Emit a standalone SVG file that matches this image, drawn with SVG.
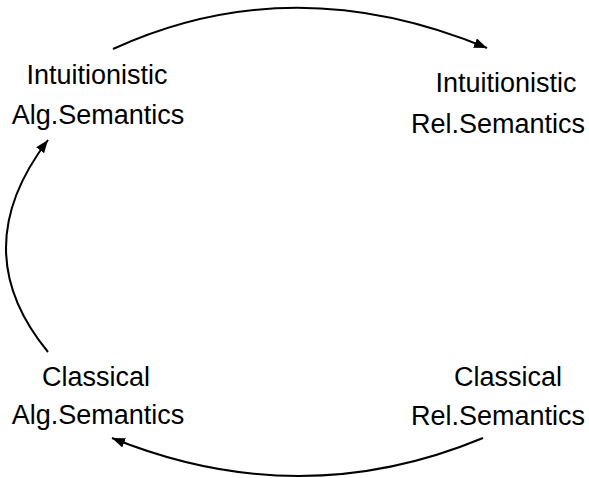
<svg xmlns="http://www.w3.org/2000/svg" width="589" height="478" viewBox="0 0 589 478">
<style>
.lbl{font-family:"Liberation Sans",Arial,sans-serif;font-size:27px;fill:#000;text-anchor:middle}
.edge{fill:none;stroke:#000;stroke-width:2}
</style>
<defs>
<marker id="ah" markerUnits="userSpaceOnUse" markerWidth="14" markerHeight="11" refX="13" refY="5" orient="auto">
<path d="M0,0 L13,5 L0,10 z" fill="#000"/>
</marker>
</defs>
<g id="intAlg"><text class="lbl" x="97" y="84">Intuitionistic</text><text class="lbl" x="98" y="124">Alg.Semantics</text></g>
<g id="intRel"><text class="lbl" x="506" y="92">Intuitionistic</text><text class="lbl" x="498" y="133">Rel.Semantics</text></g>
<g id="clAlg"><text class="lbl" x="96" y="386">Classical</text><text class="lbl" x="98" y="424">Alg.Semantics</text></g>
<g id="clRel"><text class="lbl" x="508" y="386">Classical</text><text class="lbl" x="498" y="425">Rel.Semantics</text></g>
<g id="connectors">
<path class="edge" d="M113,49 Q292,-33 487,48" marker-end="url(#ah)"/>
<path class="edge" d="M48,352 Q-36,250 48,140" marker-end="url(#ah)"/>
<path class="edge" d="M483,438 Q300,514 112,438" marker-end="url(#ah)"/>
</g>
</svg>
